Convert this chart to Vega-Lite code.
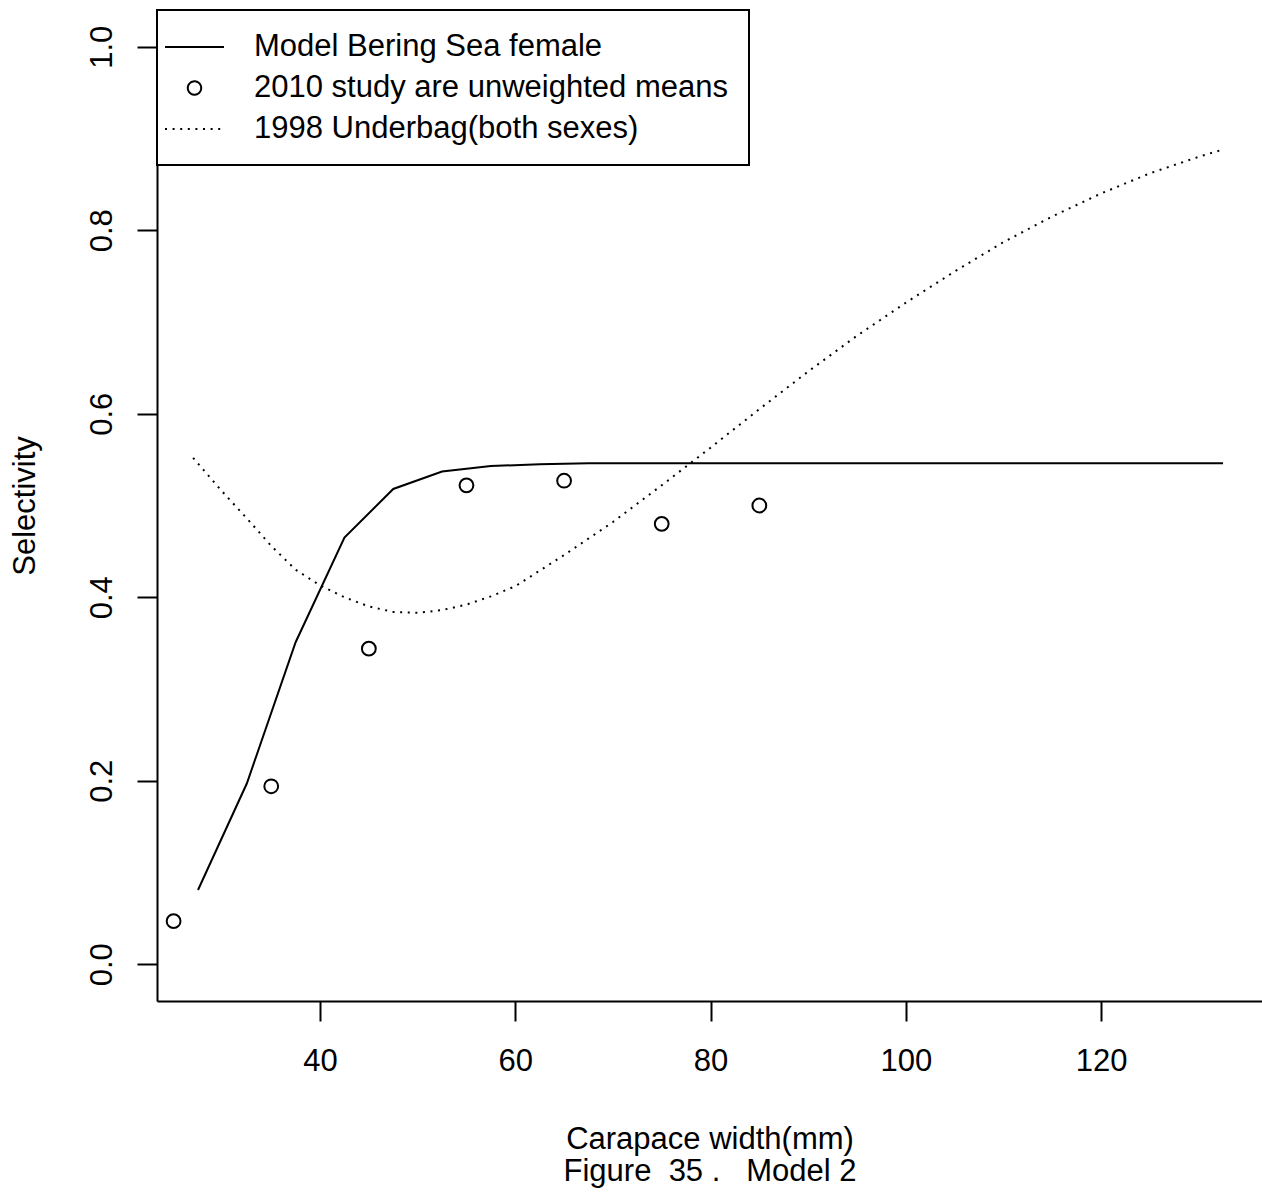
{
  "$schema": "https://vega.github.io/schema/vega-lite/v6.json",
  "autosize": "none",
  "width": 1105,
  "height": 991,
  "padding": {"left": 157, "top": 10, "right": 0, "bottom": 191},
  "background": "white",
  "config": {
    "view": {"stroke": null},
    "font": "Liberation Sans",
    "axis": {
      "grid": false,
      "domainColor": "black",
      "domainWidth": 2,
      "tickColor": "black",
      "tickWidth": 2,
      "tickSize": 20,
      "labelFont": "Liberation Sans",
      "labelFontSize": 31,
      "labelColor": "black",
      "titleFont": "Liberation Sans",
      "titleFontSize": 31,
      "titleFontWeight": "normal",
      "titleColor": "black"
    },
    "legend": {
      "orient": "none",
      "legendX": 0,
      "legendY": 0,
      "strokeColor": "black",
      "fillColor": "white",
      "padding": 21,
      "symbolSize": 870,
      "symbolStrokeWidth": 2,
      "symbolOffset": 0.5,
      "labelFont": "Liberation Sans",
      "labelFontSize": 31,
      "labelColor": "black",
      "labelOffset": 43.5,
      "labelLimit": 1000,
      "rowPadding": 10
    }
  },
  "layer": [
    {
      "data": {
        "values": [
          {"series": "Model Bering Sea female", "width": 27.5, "selectivity": 0.081},
          {"series": "Model Bering Sea female", "width": 32.5, "selectivity": 0.197},
          {"series": "Model Bering Sea female", "width": 37.5, "selectivity": 0.351},
          {"series": "Model Bering Sea female", "width": 42.5, "selectivity": 0.465},
          {"series": "Model Bering Sea female", "width": 47.5, "selectivity": 0.518},
          {"series": "Model Bering Sea female", "width": 52.5, "selectivity": 0.537},
          {"series": "Model Bering Sea female", "width": 57.5, "selectivity": 0.543},
          {"series": "Model Bering Sea female", "width": 62.5, "selectivity": 0.545},
          {"series": "Model Bering Sea female", "width": 67.5, "selectivity": 0.546},
          {"series": "Model Bering Sea female", "width": 72.5, "selectivity": 0.546},
          {"series": "Model Bering Sea female", "width": 77.5, "selectivity": 0.546},
          {"series": "Model Bering Sea female", "width": 82.5, "selectivity": 0.546},
          {"series": "Model Bering Sea female", "width": 87.5, "selectivity": 0.546},
          {"series": "Model Bering Sea female", "width": 92.5, "selectivity": 0.546},
          {"series": "Model Bering Sea female", "width": 97.5, "selectivity": 0.546},
          {"series": "Model Bering Sea female", "width": 102.5, "selectivity": 0.546},
          {"series": "Model Bering Sea female", "width": 107.5, "selectivity": 0.546},
          {"series": "Model Bering Sea female", "width": 112.5, "selectivity": 0.546},
          {"series": "Model Bering Sea female", "width": 117.5, "selectivity": 0.546},
          {"series": "Model Bering Sea female", "width": 122.5, "selectivity": 0.546},
          {"series": "Model Bering Sea female", "width": 127.5, "selectivity": 0.546},
          {"series": "Model Bering Sea female", "width": 132.5, "selectivity": 0.546}
        ]
      },
      "mark": {"type": "line", "strokeWidth": 2, "clip": true},
      "encoding": {
        "x": {"field": "width", "type": "quantitative"},
        "y": {"field": "selectivity", "type": "quantitative"},
        "color": {
          "field": "series", "type": "nominal",
          "legend": {
            "title": null,
            "encode": {
              "legend": {"update": {"strokeWidth": {"value": 2}}},
              "symbols": {
                "update": {
                  "shape": {"signal": "datum.value === '2010 study are unweighted means' ? 'circle' : 'M-2,0H2'"},
                  "size": {"signal": "datum.value === '2010 study are unweighted means' ? 180 : 870"},
                  "strokeDash": {"signal": "datum.value === '1998 Underbag(both sexes)' ? [2, 5.6] : [1, 0]"},
                  "stroke": {"value": "black"},
                  "fill": {"value": "transparent"},
                  "strokeWidth": {"value": 2},
                  "opacity": {"value": 1}
                }
              }
            }
          }
        }
      }
    },
    {
      "data": {
        "values": [
          {"series": "1998 Underbag(both sexes)", "width": 27, "selectivity": 0.552},
          {"series": "1998 Underbag(both sexes)", "width": 30, "selectivity": 0.515},
          {"series": "1998 Underbag(both sexes)", "width": 32.5, "selectivity": 0.486},
          {"series": "1998 Underbag(both sexes)", "width": 35, "selectivity": 0.456},
          {"series": "1998 Underbag(both sexes)", "width": 37.5, "selectivity": 0.43},
          {"series": "1998 Underbag(both sexes)", "width": 40, "selectivity": 0.413},
          {"series": "1998 Underbag(both sexes)", "width": 42.5, "selectivity": 0.4},
          {"series": "1998 Underbag(both sexes)", "width": 45, "selectivity": 0.39},
          {"series": "1998 Underbag(both sexes)", "width": 47.5, "selectivity": 0.384},
          {"series": "1998 Underbag(both sexes)", "width": 50, "selectivity": 0.383},
          {"series": "1998 Underbag(both sexes)", "width": 52.5, "selectivity": 0.386},
          {"series": "1998 Underbag(both sexes)", "width": 55, "selectivity": 0.392},
          {"series": "1998 Underbag(both sexes)", "width": 57.5, "selectivity": 0.401},
          {"series": "1998 Underbag(both sexes)", "width": 60, "selectivity": 0.412},
          {"series": "1998 Underbag(both sexes)", "width": 62.5, "selectivity": 0.429},
          {"series": "1998 Underbag(both sexes)", "width": 65, "selectivity": 0.446},
          {"series": "1998 Underbag(both sexes)", "width": 67.5, "selectivity": 0.464},
          {"series": "1998 Underbag(both sexes)", "width": 70, "selectivity": 0.482},
          {"series": "1998 Underbag(both sexes)", "width": 75, "selectivity": 0.522},
          {"series": "1998 Underbag(both sexes)", "width": 80, "selectivity": 0.563},
          {"series": "1998 Underbag(both sexes)", "width": 85, "selectivity": 0.605},
          {"series": "1998 Underbag(both sexes)", "width": 90, "selectivity": 0.646},
          {"series": "1998 Underbag(both sexes)", "width": 95, "selectivity": 0.685},
          {"series": "1998 Underbag(both sexes)", "width": 100, "selectivity": 0.721},
          {"series": "1998 Underbag(both sexes)", "width": 105, "selectivity": 0.755},
          {"series": "1998 Underbag(both sexes)", "width": 110, "selectivity": 0.787},
          {"series": "1998 Underbag(both sexes)", "width": 115, "selectivity": 0.815},
          {"series": "1998 Underbag(both sexes)", "width": 120, "selectivity": 0.84},
          {"series": "1998 Underbag(both sexes)", "width": 125, "selectivity": 0.862},
          {"series": "1998 Underbag(both sexes)", "width": 130, "selectivity": 0.88},
          {"series": "1998 Underbag(both sexes)", "width": 132.5, "selectivity": 0.888}
        ]
      },
      "mark": {"type": "line", "strokeWidth": 2, "strokeDash": [2, 5.6], "clip": true},
      "encoding": {
        "x": {"field": "width", "type": "quantitative"},
        "y": {"field": "selectivity", "type": "quantitative"},
        "color": {"field": "series", "type": "nominal"}
      }
    },
    {
      "data": {
        "values": [
          {"series": "2010 study are unweighted means", "width": 25, "selectivity": 0.047},
          {"series": "2010 study are unweighted means", "width": 35, "selectivity": 0.194},
          {"series": "2010 study are unweighted means", "width": 45, "selectivity": 0.344},
          {"series": "2010 study are unweighted means", "width": 55, "selectivity": 0.522},
          {"series": "2010 study are unweighted means", "width": 65, "selectivity": 0.527},
          {"series": "2010 study are unweighted means", "width": 75, "selectivity": 0.48},
          {"series": "2010 study are unweighted means", "width": 85, "selectivity": 0.5}
        ]
      },
      "mark": {"type": "point", "shape": "circle", "filled": false, "size": 190, "strokeWidth": 2, "opacity": 1},
      "encoding": {
        "x": {
          "field": "width", "type": "quantitative",
          "scale": {"domain": [23.3, 136.49], "nice": false, "zero": false},
          "axis": {
            "values": [40, 60, 80, 100, 120],
            "format": "d",
            "labelBaseline": "alphabetic",
            "labelPadding": 49,
            "title": ["Carapace width(mm)", "Figure\u00a0\u00a035\u00a0.\u00a0\u00a0\u00a0Model 2"],
            "titleBaseline": "alphabetic",
            "titleY": 147,
            "titleLineHeight": 32
          }
        },
        "y": {
          "field": "selectivity", "type": "quantitative",
          "scale": {"domain": [-0.04, 1.04], "nice": false, "zero": false},
          "axis": {
            "values": [0, 0.2, 0.4, 0.6, 0.8, 1.0],
            "format": ".1f",
            "labelAngle": 270,
            "labelAlign": "center",
            "labelBaseline": "alphabetic",
            "labelPadding": 26,
            "title": "Selectivity",
            "titleAngle": 270,
            "titleAlign": "center",
            "titleBaseline": "alphabetic",
            "titleX": -123,
            "titleY": 495.5
          }
        },
        "color": {
          "field": "series", "type": "nominal",
          "scale": {
            "domain": ["Model Bering Sea female", "2010 study are unweighted means", "1998 Underbag(both sexes)"],
            "range": ["black", "black", "black"]
          }
        }
      }
    }
  ]
}
